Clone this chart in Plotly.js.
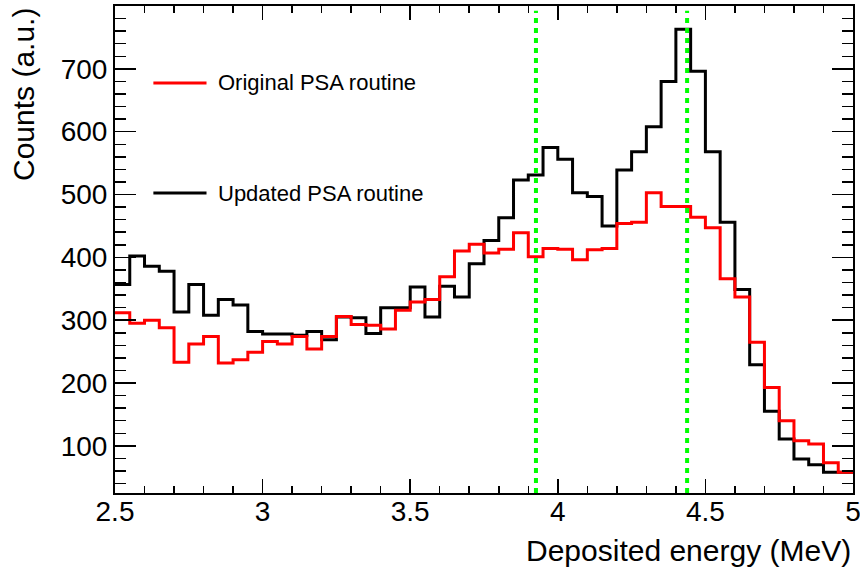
<!DOCTYPE html>
<html>
<head>
<meta charset="utf-8">
<script src="https://cdn.plot.ly/plotly-3.0.1.min.js"></script>
<style>
html,body{margin:0;padding:0;background:#fff;}
#chart{width:860px;height:572px;}
</style>
</head>
<body>
<div id="chart"></div>
<script>
// Bin lower edges (MeV), bin width 0.05, last entry is the upper edge of the final bin
var binEdges = [2.50,2.55,2.60,2.65,2.70,2.75,2.80,2.85,2.90,2.95,
                3.00,3.05,3.10,3.15,3.20,3.25,3.30,3.35,3.40,3.45,
                3.50,3.55,3.60,3.65,3.70,3.75,3.80,3.85,3.90,3.95,
                4.00,4.05,4.10,4.15,4.20,4.25,4.30,4.35,4.40,4.45,
                4.50,4.55,4.60,4.65,4.70,4.75,4.80,4.85,4.90,4.95,5.00];

// Counts per bin, updated PSA routine (black)
var updatedCounts = [357,402,386,378,313,357,308,333,324,282,
                     278,278,276,282,269,305,304,279,320,320,
                     353,305,354,337,390,427,463,523,531,575,
                     556,503,497,450,539,568,608,680,763,696,
                     568,456,349,229,155,111,79,70,58,58];

// Counts per bin, original PSA routine (red)
var originalCounts = [312,295,300,288,233,262,274,232,237,249,
                      266,262,274,254,274,306,293,292,286,316,
                      329,333,369,410,421,407,413,439,401,414,
                      413,396,412,414,454,456,503,481,481,464,
                      447,366,337,265,193,140,108,103,73,58];

// Marker energies (MeV) for the dashed green lines
var markerEnergies = [3.926, 4.438];

var legendLabels = ["Original PSA routine", "Updated PSA routine"];

function stepY(counts){ return counts.concat([counts[counts.length-1]]); }

var traces = [
  {x: binEdges, y: stepY(updatedCounts), type:'scatter', mode:'lines',
   line:{shape:'hv', color:'#000000', width:3}, name: legendLabels[1], hoverinfo:'skip'},
  {x: binEdges, y: stepY(originalCounts), type:'scatter', mode:'lines',
   line:{shape:'hv', color:'#ff0000', width:3}, name: legendLabels[0], hoverinfo:'skip'}
];

var font = 'Liberation Sans, Arial, Helvetica, sans-serif';

var shapes = markerEnergies.map(function(e){
  return {type:'line', xref:'x', yref:'paper', x0:e, x1:e, y0:0, y1:0.99,
          line:{color:'#00ff00', width:4, dash:'5px,5px'}, layer:'above'};
});
shapes.push({type:'line', xref:'paper', yref:'paper', x0:0.052, x1:0.124, y0:0.842, y1:0.842,
             line:{color:'#ff0000', width:3}});
shapes.push({type:'line', xref:'paper', yref:'paper', x0:0.052, x1:0.124, y0:0.616, y1:0.616,
             line:{color:'#000000', width:3}});

var annotations = [
  {xref:'paper', yref:'paper', x:0.137, y:0.842, xanchor:'left', yanchor:'middle',
   text:legendLabels[0], showarrow:false, font:{family:font, size:22, color:'#000'}},
  {xref:'paper', yref:'paper', x:0.137, y:0.616, xanchor:'left', yanchor:'middle',
   text:legendLabels[1], showarrow:false, font:{family:font, size:22, color:'#000'}},
  {xref:'paper', yref:'paper', x:1.0, y:-0.118, xanchor:'right', yanchor:'middle',
   text:'Deposited energy (MeV)', showarrow:false, font:{family:font, size:30, color:'#000'}},
  {xref:'paper', yref:'paper', x:-0.124, y:1.0, xanchor:'center', yanchor:'top', textangle:-90,
   text:'Counts (a.u.)', showarrow:false, font:{family:font, size:30, color:'#000'}}
];

var layout = {
  width:860, height:572,
  margin:{l:115, r:7, t:6, b:79},
  paper_bgcolor:'#fff', plot_bgcolor:'#fff',
  showlegend:false,
  font:{family:font, color:'#000'},
  xaxis:{range:[2.5,5], tick0:2.5, dtick:0.5, ticks:'inside', ticklen:14, tickwidth:1.5,
         tickcolor:'#000', showline:true, linewidth:2, linecolor:'#000', mirror:'ticks',
         showgrid:false, zeroline:false, tickfont:{family:font, size:28, color:'#000'},
         ticklabeloverflow:'allow', ticklabelstandoff:-8,
         minor:{dtick:0.1, ticklen:7, tickwidth:1.5, ticks:'inside', tickcolor:'#000', showgrid:false}},
  yaxis:{range:[25,800], tick0:0, dtick:100, ticks:'inside', ticklen:21, tickwidth:1.5,
         tickcolor:'#000', showline:true, linewidth:2, linecolor:'#000', mirror:'ticks',
         showgrid:false, zeroline:false, tickfont:{family:font, size:28, color:'#000'},
         minor:{dtick:20, ticklen:11, tickwidth:1.5, ticks:'inside', tickcolor:'#000', showgrid:false}},
  shapes:shapes,
  annotations:annotations
};

Plotly.newPlot('chart', traces, layout, {staticPlot:true, displayModeBar:false});
</script>
</body>
</html>
